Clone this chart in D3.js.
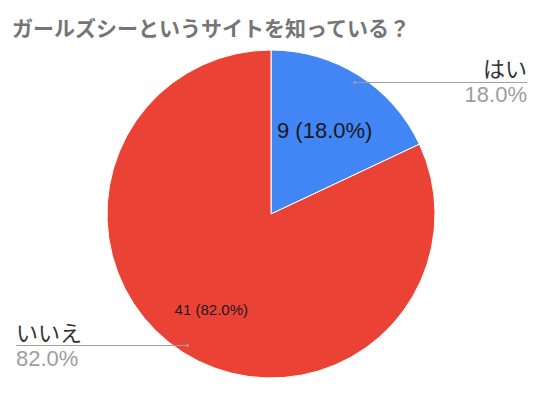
<!DOCTYPE html>
<html>
<head>
<meta charset="utf-8">
<script src="https://d3js.org/d3.v7.min.js"></script>
<style>
  body { margin: 0; background: #fff; font-family: "Noto Sans CJK JP", Arial, sans-serif; }
</style>
</head>
<body>
<div id="chart"></div>
<script>
const title = "ガールズシーというサイトを知っている？";
const categories = ["はい", "いいえ"];
const counts = [9, 41];
const colors = ["#4285f4", "#ea4335"];

const width = 540, height = 393;
const cx = 271, cy = 214, radius = 164;

const total = d3.sum(counts);
const data = categories.map((c, i) => ({ name: c, value: counts[i], color: colors[i] }));
const pct = v => (v / total * 100).toFixed(1) + "%";

const svg = d3.select("#chart").append("svg")
    .attr("width", width)
    .attr("height", height);

svg.append("text")
    .attr("x", 12)
    .attr("y", 36)
    .attr("fill", "#757575")
    .style("font-size", "21px")
    .style("font-weight", "bold")
    .text(title);

const pie = d3.pie().sort(null).value(d => d.value);
const arc = d3.arc().innerRadius(0).outerRadius(radius);
const arcs = pie(data);

const g = svg.append("g").attr("transform", "translate(" + cx + "," + cy + ")");

g.selectAll("path")
    .data(arcs)
    .enter().append("path")
    .attr("d", arc)
    .attr("fill", d => d.data.color)
    .attr("stroke", "#fff")
    .attr("stroke-width", 1);

// labels inside slices
const inner = d3.arc().innerRadius(radius * 0.6).outerRadius(radius * 0.6);
g.selectAll(".slice-label")
    .data(arcs)
    .enter().append("text")
    .attr("class", "slice-label")
    .attr("x", (d, i) => inner.centroid(d)[0] + (i === 0 ? 1 : -7))
    .attr("y", (d, i) => inner.centroid(d)[1] + (i === 0 ? 0 : 12))
    .attr("text-anchor", "middle")
    .attr("dominant-baseline", "central")
    .attr("fill", "#1a1a1a")
    .style("font-family", "Arial, sans-serif")
    .style("font-size", (d, i) => i === 0 ? "22px" : "15px")
    .text(d => d.data.value + " (" + pct(d.data.value) + ")");

// leader lines
const dotArc = d3.arc().innerRadius(radius * 0.95).outerRadius(radius * 0.95);
arcs.forEach((d, i) => {
    const [px, py] = dotArc.centroid(d);
    const right = i === 0;
    const endX = right ? 527 - cx : 16 - cx;
    g.append("line")
        .attr("x1", px).attr("y1", py)
        .attr("x2", endX).attr("y2", py)
        .attr("stroke", "#9e9e9e")
        .attr("stroke-width", 1);
    g.append("circle")
        .attr("cx", px).attr("cy", py).attr("r", 1.5)
        .attr("fill", "#9e9e9e");
    g.append("text")
        .attr("x", endX)
        .attr("y", py - 5)
        .attr("text-anchor", right ? "end" : "start")
        .attr("fill", "#333")
        .style("font-size", "22px")
        .text(d.data.name);
    g.append("text")
        .attr("x", endX)
        .attr("y", py + 20)
        .attr("text-anchor", right ? "end" : "start")
        .attr("fill", "#9e9e9e")
        .style("font-family", "Arial, sans-serif")
        .style("font-size", "22px")
        .text(pct(d.data.value));
});
</script>
</body>
</html>
